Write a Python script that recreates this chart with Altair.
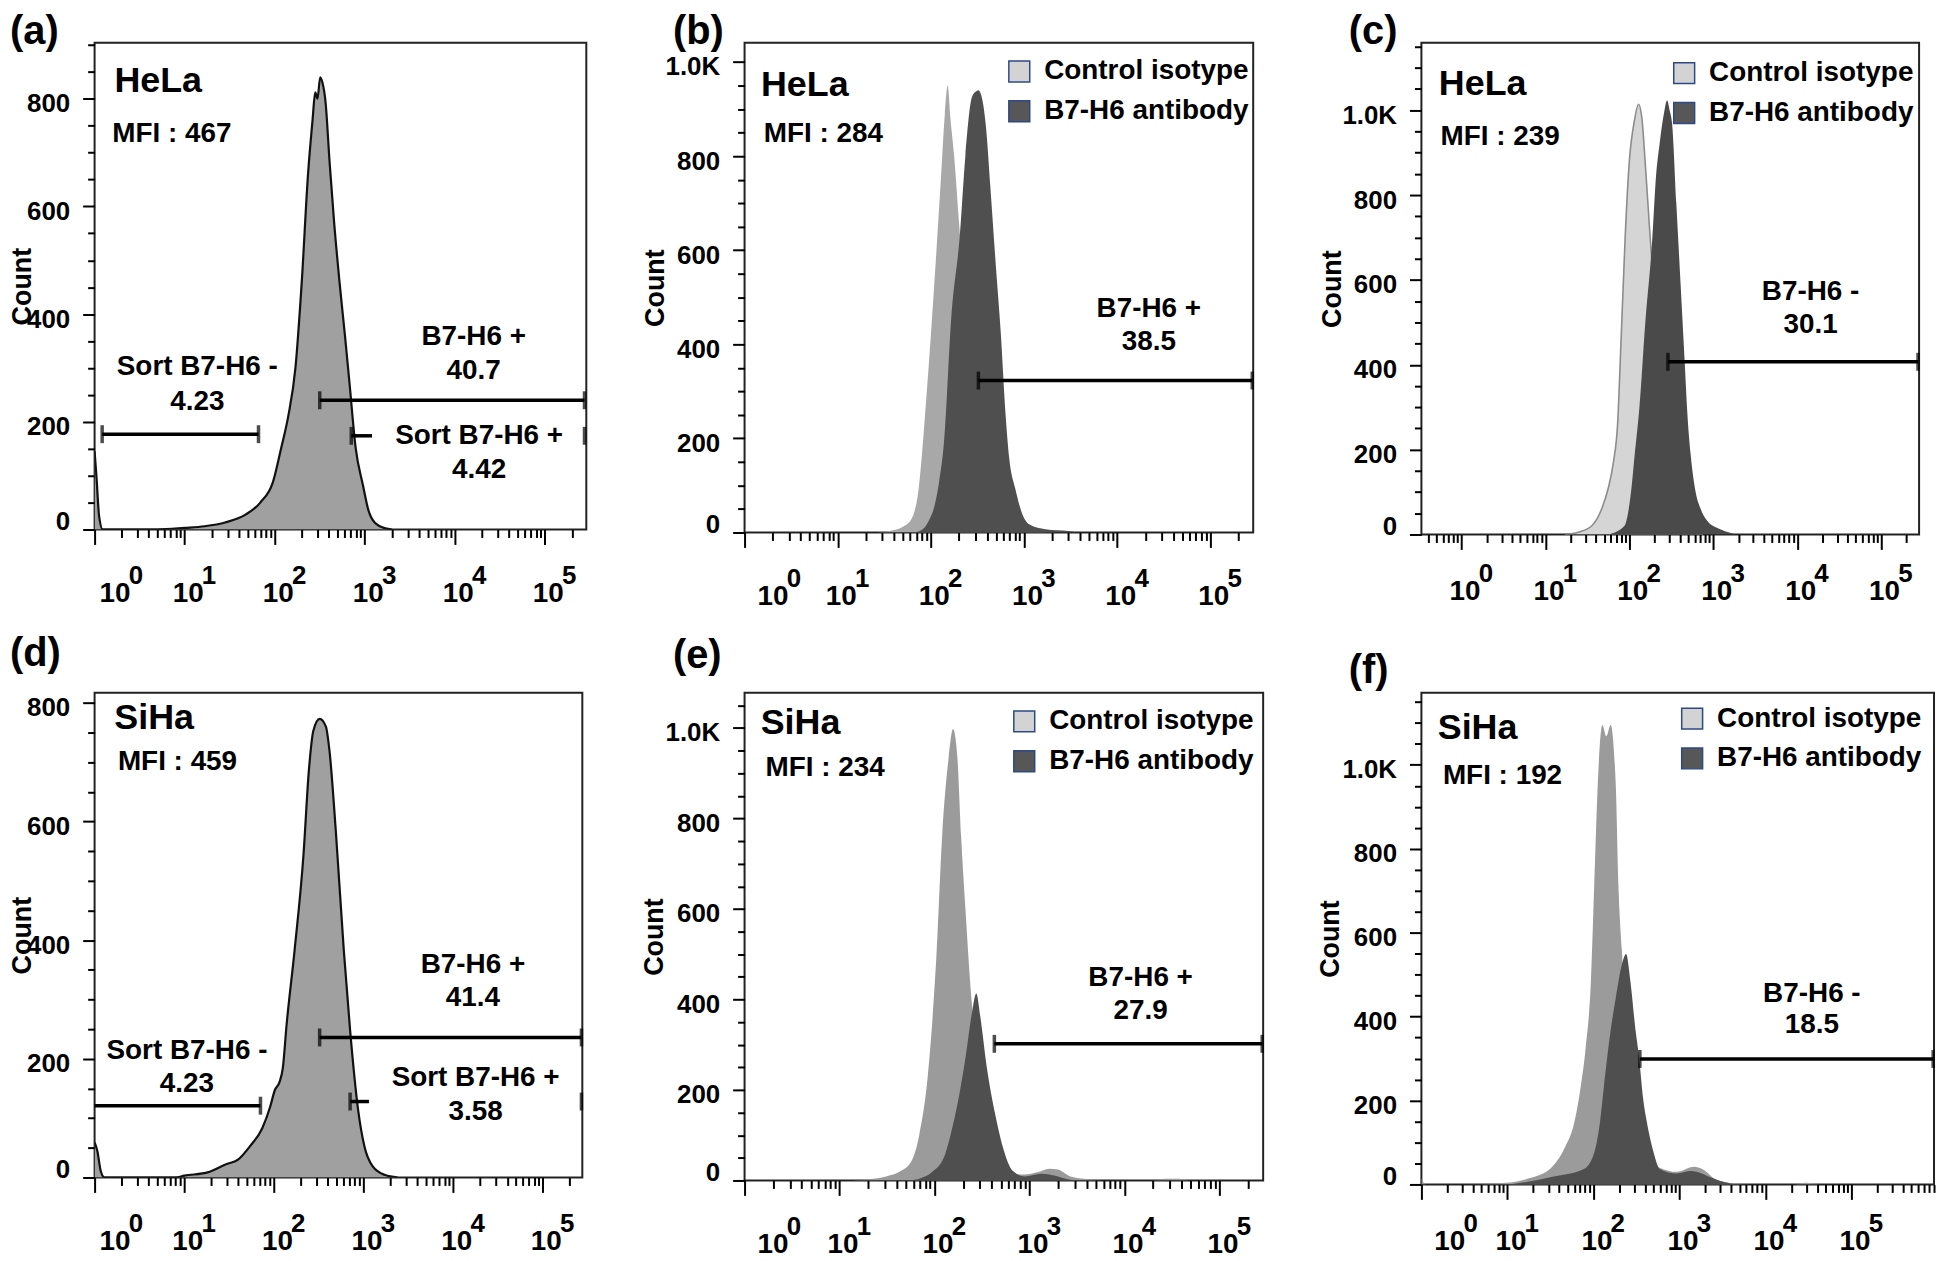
import math
import altair as alt
import pandas as pd

FONT = "Liberation Sans"

# ------------------------------------------------------------------ data
# x = log10(fluorescence intensity), y = cell count
# (a) HeLa (sorted population), single histogram
A_LX = [0.0, 0.02, 0.05, 0.09, 0.70, 1.00, 1.22, 1.45, 1.68, 1.84, 1.98, 2.07, 2.15, 2.23, 2.30, 2.37, 2.42,
        2.45, 2.475, 2.505, 2.53, 2.565, 2.61, 2.66, 2.72, 2.78, 2.83, 2.90, 2.98, 3.04, 3.11, 3.23, 3.30]
A_CNT = [145, 100, 25, 0, 0, 3, 6, 13, 28, 50, 88, 150, 210, 300, 459, 660, 760,
         812, 800, 840, 830, 793, 681, 570, 459, 360, 273, 150, 82, 36, 13, 2, 0]
# (b) HeLa control isotype / B7-H6 antibody
B_CTRL_LX = [1.43, 1.58, 1.70, 1.79, 1.87, 1.93, 2.00, 2.06, 2.11, 2.15, 2.18, 2.21, 2.25, 2.30, 2.34, 2.40,
             2.46, 2.53, 2.63, 2.83, 3.03, 3.33]
B_CTRL_CNT = [0, 4, 12, 28, 95, 230, 420, 600, 760, 890, 950, 880, 800, 664, 560, 400, 220, 100, 35, 8, 3, 0]
B_AB_LX = [1.83, 1.93, 1.99, 2.03, 2.09, 2.14, 2.22, 2.31, 2.37, 2.44, 2.48, 2.51, 2.54, 2.59, 2.64, 2.70,
           2.75, 2.80, 2.84, 2.91, 2.98, 3.06, 3.23, 3.48, 3.58]
B_AB_CNT = [0, 10, 30, 50, 110, 190, 460, 630, 800, 925, 937, 940, 930, 865, 730, 560, 425, 256, 160, 90, 40,
            17, 7, 3, 0]
# (c) HeLa control isotype / B7-H6 antibody
C_CTRL_LX = [1.23, 1.40, 1.55, 1.67, 1.75, 1.81, 1.86, 1.90, 1.95, 2.00, 2.06, 2.11, 2.15, 2.19, 2.24, 2.32,
             2.39, 2.49, 2.64, 2.88]
C_CTRL_CNT = [0, 6, 20, 60, 110, 170, 260, 450, 700, 880, 975, 1014, 980, 874, 724, 499, 265, 78, 12, 0]
C_AB_LX = [1.75, 1.94, 2.02, 2.06, 2.12, 2.19, 2.27, 2.32, 2.36, 2.41, 2.45, 2.48, 2.51, 2.56, 2.61, 2.66,
           2.69, 2.73, 2.79, 2.85, 2.93, 3.09, 3.29]
C_AB_CNT = [0, 20, 100, 180, 300, 499, 686, 850, 920, 990, 1023, 1000, 967, 780, 593, 405, 290, 190, 100, 60,
            32, 12, 0]
# (d) SiHa (sorted population), single histogram
D_LX = [0.0, 0.03, 0.07, 0.11, 0.90, 1.00, 1.27, 1.46, 1.60, 1.73, 1.87, 1.96, 2.01, 2.06, 2.10, 2.14, 2.23,
        2.33, 2.39, 2.44, 2.51, 2.58, 2.62, 2.69, 2.78, 2.85, 2.94, 3.01, 3.10, 3.24, 3.38]
D_CNT = [59, 45, 10, 0, 0, 3, 9, 22, 30, 52, 83, 120, 147, 160, 185, 255, 382,
         544, 686, 753, 773, 760, 719, 585, 382, 248, 113, 52, 19, 4, 0]
# (e) SiHa control isotype / B7-H6 antibody
E_CTRL_LX = [1.13, 1.31, 1.49, 1.62, 1.75, 1.84, 1.93, 2.02, 2.08, 2.15, 2.195, 2.24, 2.28, 2.33, 2.37, 2.42,
             2.46, 2.53, 2.64, 2.77, 2.95, 3.08, 3.21, 3.30, 3.43, 3.61, 3.75, 4.28, 4.43, 4.58, 4.68]
E_CTRL_CNT = [0, 3, 9, 18, 40, 101, 233, 497, 761, 937, 998, 937, 761, 585, 453, 321,
              189, 84, 31, 18, 13, 18, 26, 24, 9, 3, 0, 0, 4, 4, 0]
E_AB_LX = [1.71, 1.84, 1.97, 2.11, 2.19, 2.26, 2.33, 2.39, 2.44, 2.48, 2.55, 2.64, 2.73, 2.82, 2.95, 3.13,
           3.26, 3.39, 3.48]
E_AB_CNT = [0, 4, 18, 57, 119, 189, 277, 365, 413, 365, 251, 145, 66, 22, 9, 15, 11, 3, 0]
# (f) SiHa control isotype / B7-H6 antibody
F_CTRL_LX = [0.0, 0.05, 0.52, 0.89, 1.08, 1.24, 1.51, 1.66, 1.78, 1.85, 1.91, 1.97, 2.01, 2.05, 2.104, 2.15,
             2.20, 2.26, 2.29, 2.33, 2.38, 2.44, 2.52, 2.62, 2.77, 2.97, 3.17, 3.27, 3.42, 3.62, 3.82, 4.32,
             4.47, 4.62]
F_CTRL_CNT = [14, 0, 0, 3, 6, 14, 40, 85, 150, 230, 326, 482, 717, 951, 1095, 1068,
              1095, 951, 717, 560, 400, 250, 120, 60, 40, 30, 42, 36, 12, 3, 0, 0, 4, 0]
F_AB_LX = [1.02, 1.22, 1.51, 1.89, 2.01, 2.08, 2.12, 2.20, 2.26, 2.33, 2.38, 2.43, 2.49, 2.53, 2.58, 2.62,
           2.70, 2.77, 2.97, 3.12, 3.20, 3.35, 3.52, 3.67]
F_AB_CNT = [0, 6, 18, 37, 76, 155, 230, 367, 445, 523, 549, 484, 367, 304, 201, 150, 76, 37, 26, 32, 30, 18,
            6, 0]

# panel letters and header texts
LETTER = ["(a)", "(b)", "(c)", "(d)", "(e)", "(f)"]
CELL = ["HeLa", "HeLa", "HeLa", "SiHa", "SiHa", "SiHa"]
CELL_LX = [0.22, 0.176, -0.27, 0.22, 0.17, 0.19]
CELL_Y = [832, 952, 1061, 775, 1011, 1087]
MFI = ["MFI : 467", "MFI : 284", "MFI : 239", "MFI : 459", "MFI : 234", "MFI : 192"]
MFI_LX = [0.196, 0.207, -0.25, 0.26, 0.22, 0.25]
MFI_Y = [735, 847, 937, 700, 912, 973]

# gate labels
A_NOTE = ["Sort B7-H6 -", "4.23", "B7-H6 +", "40.7", "Sort B7-H6 +", "4.42"]
A_NOTE_LX = [1.14, 1.14, 4.21, 4.21, 4.27, 4.27]
A_NOTE_Y = [301, 236, 357, 295, 173, 110]
B_NOTE = ["B7-H6 +", "38.5"]
B_NOTE_LX = [4.34, 4.34]
B_NOTE_Y = [474, 404]
C_NOTE = ["B7-H6 -", "30.1"]
C_NOTE_LX = [4.16, 4.16]
C_NOTE_Y = [572, 494]
D_NOTE = ["Sort B7-H6 -", "4.23", "B7-H6 +", "41.4", "Sort B7-H6 +", "3.58"]
D_NOTE_LX = [1.03, 1.03, 4.22, 4.22, 4.25, 4.25]
D_NOTE_Y = [213, 157, 358, 302, 167, 110]
E_NOTE = ["B7-H6 +", "27.9"]
E_NOTE_LX = [4.17, 4.17]
E_NOTE_Y = [447, 374]
F_NOTE = ["B7-H6 -", "18.5"]
F_NOTE_LX = [4.54, 4.54]
F_NOTE_Y = [455, 380]

# gate bars (log10 start, log10 end, count level) and their end caps
A_GATE_X1 = [0.084, 2.50, 2.85]
A_GATE_X2 = [1.82, 5.44, 3.08]
A_GATE_Y = [177, 240, 174]
A_CAP_X = [0.084, 1.82, 2.50, 5.44, 2.85, 5.44]
A_CAP_Y = [177, 177, 240, 240, 174, 174]
B_GATE_X1, B_GATE_X2, B_GATE_Y = [2.51], [5.45], [323]
B_CAP_X, B_CAP_Y = [2.51, 5.45], [323, 323]
C_GATE_X1, C_GATE_X2, C_GATE_Y = [2.46], [5.44], [407]
C_CAP_X, C_CAP_Y = [2.46, 5.44], [407, 407]
D_GATE_X1 = [0.0, 2.51, 2.85]
D_GATE_X2 = [1.85, 5.43, 3.06]
D_GATE_Y = [121, 236, 128]
D_CAP_X = [1.85, 2.51, 5.43, 2.85, 5.43]
D_CAP_Y = [121, 236, 236, 128, 128]
E_GATE_X1, E_GATE_X2, E_GATE_Y = [2.63], [5.45], [302]
E_CAP_X, E_CAP_Y = [2.63, 5.45], [302, 302]
F_GATE_X1, F_GATE_X2, F_GATE_Y = [2.54], [5.95], [299]
F_CAP_X, F_CAP_Y = [2.54, 5.95], [299, 299]

LEGEND_LABELS = ["Control isotype", "B7-H6 antibody"]
LEGEND_COLORS = ["#d3d3d3", "#575757"]
LEGEND_EDGE = "#2d4a86"

# ------------------------------------------------------------------ helpers
DEC = "abs(log(datum.value) / LN10 - round(log(datum.value) / LN10)) < 0.0001"
ONE = "datum.value > 0.99 && datum.value < 1.01"


def x_ticks(lo, hi):
    vals = []
    for d in range(math.floor(lo) - 1, math.ceil(hi) + 1):
        for k in range(1, 10):
            v = k * 10.0 ** d
            if lo - 1e-9 <= math.log10(v) <= hi + 1e-9:
                vals.append(v)
    return vals


def x_decades(lo, hi):
    return [10.0 ** d for d in range(math.ceil(lo - 1e-9), math.floor(hi + 1e-9) + 1)]


def df_xy(lx, cnt):
    return pd.DataFrame({"lx": lx, "count": cnt})


def make_panel(p):
    lo, hi = p["xmin"], p["xmax"]
    xs = alt.Scale(type="log", domain=[10 ** lo, 10 ** hi], nice=False)
    ys = alt.Scale(domain=[0, p["ymax"]], nice=False, zero=True)
    shift = p["shift0"]
    lpad = p["lpad"]

    ax_main = alt.Axis(
        orient="bottom", values=x_ticks(lo, hi), labelExpr=f"({DEC}) ? '10' : ''",
        tickSize={"condition": {"test": DEC, "value": 15}, "value": 8},
        tickWidth=2, tickColor="black", domain=False, grid=False,
        labelFont=FONT, labelFontSize=28, labelFontWeight="bold", labelColor="black",
        labelPadding=35 + lpad, labelOffset={"condition": {"test": ONE, "value": 3 + shift}, "value": 3},
        labelOverlap=False, labelFlush=False, labelBound=False, title=None)
    ax_exp = alt.Axis(
        orient="bottom", values=x_decades(lo, hi),
        labelExpr="format(round(log(datum.value) / LN10), 'd')",
        ticks=False, domain=False, grid=False,
        labelFont=FONT, labelFontSize=26, labelFontWeight="bold", labelColor="black",
        labelPadding=33 + lpad, labelOffset={"condition": {"test": ONE, "value": 24 + shift}, "value": 24},
        labelOverlap=False, labelFlush=False, labelBound=False, title=None)
    ax_y = alt.Axis(
        values=list(range(0, int(p["ymax"]) + 1, 50)),
        labelExpr="datum.value % 200 === 0 ? (datum.value >= 1000 ? format(datum.value / 1000, '.1f') + 'K' : '' + datum.value) : ''",
        tickSize={"condition": {"test": "datum.value % 200 === 0", "value": 12}, "value": 7},
        tickWidth=2, tickColor="black", domain=False, grid=False,
        labelFont=FONT, labelFontSize=26, labelFontWeight="bold", labelColor="black",
        labelPadding=13, labelOffset={"condition": {"test": "datum.value === 0", "value": -8}, "value": 5},
        labelOverlap=False, labelFlush=False, labelBound=False,
        title="Count", titleFont=FONT, titleFontSize=27, titleFontWeight="bold", titleColor="black",
        titleAngle=270, titleX=p["count_x"], titleY=p["h"] / 2, titleBaseline="middle", titleAlign="center")

    def xenc(axis=None):
        return alt.X("x:Q", scale=xs, axis=axis)

    def yenc(axis=None):
        return alt.Y("count:Q", scale=ys, axis=axis)

    layers = []
    first = True
    for s in p["series"]:
        base = alt.Chart(df_xy(s["lx"], s["cnt"])).transform_calculate(x="pow(10, datum.lx)")
        area = base.mark_area(fill=s["fill"], clip=True, interpolate="monotone", opacity=1).encode(
            x=xenc(ax_main if first else None), y=yenc(ax_y if first else None))
        layers.append(area)
        first = False
        if s.get("line"):
            layers.append(base.mark_line(color=s["line"], strokeWidth=s["lw"], clip=True,
                                         interpolate="monotone").encode(x=xenc(), y=yenc()))

    g = p["gate"]
    gdf = pd.DataFrame({"x1": g[0], "x2": g[1], "count": g[2]})
    layers.append(alt.Chart(gdf).transform_calculate(
        xa="pow(10, datum.x1)", xb="pow(10, datum.x2)").mark_rule(color="black", strokeWidth=3.5).encode(
        x=alt.X("xa:Q", scale=xs, axis=None), x2="xb:Q", y=yenc()))
    cdf = pd.DataFrame({"lx": g[3], "count": g[4]})
    layers.append(alt.Chart(cdf).transform_calculate(x="pow(10, datum.lx)").mark_tick(
        orient="vertical", color="black", size=18, thickness=3.5).encode(x=xenc(), y=yenc()))

    i = p["idx"]
    hdr = pd.DataFrame({"t": [CELL[i]], "lx": [CELL_LX[i]], "count": [CELL_Y[i]]})
    layers.append(alt.Chart(hdr).transform_calculate(x="pow(10, datum.lx)").mark_text(
        font=FONT, fontSize=36, fontWeight="bold", align="left", baseline="middle", color="black").encode(
        x=xenc(), y=yenc(), text="t:N"))
    mfi = pd.DataFrame({"t": [MFI[i]], "lx": [MFI_LX[i]], "count": [MFI_Y[i]]})
    layers.append(alt.Chart(mfi).transform_calculate(x="pow(10, datum.lx)").mark_text(
        font=FONT, fontSize=28, fontWeight="bold", align="left", baseline="middle", color="black").encode(
        x=xenc(ax_exp), y=yenc(), text="t:N"))
    nt = p["note"]
    ndf = pd.DataFrame({"t": nt[0], "lx": nt[1], "count": nt[2]})
    layers.append(alt.Chart(ndf).transform_calculate(x="pow(10, datum.lx)").mark_text(
        font=FONT, fontSize=28, fontWeight="bold", align="center", baseline="middle", color="black").encode(
        x=xenc(), y=yenc(), text="t:N"))

    # panel letter, placed just above the top-left corner of the frame
    ldf = pd.DataFrame({"t": [LETTER[i]]})
    layers.append(alt.Chart(ldf).mark_text(
        font=FONT, fontSize=40, fontWeight="bold", align="left", baseline="top", color="black").encode(
        x=alt.value(p["tdx"]), y=alt.value(p["tdy"]), text="t:N"))

    if p.get("legend"):
        lx, ly = p["legend"]
        legdf = pd.DataFrame({"series": LEGEND_LABELS, "lx": [2.0, 2.0], "count": [0, 0]})
        layers.append(alt.Chart(legdf).transform_calculate(x="pow(10, datum.lx)").mark_square(
            opacity=0, stroke=LEGEND_EDGE, strokeWidth=1.5).encode(
            x=xenc(), y=yenc(),
            color=alt.Color("series:N", scale=alt.Scale(domain=LEGEND_LABELS, range=LEGEND_COLORS),
                            legend=alt.Legend(orient="none", legendX=lx, legendY=ly, title=None,
                                              symbolType="square", symbolSize=441, symbolOpacity=1,
                                              symbolStrokeColor=LEGEND_EDGE, symbolStrokeWidth=1.5,
                                              labelFont=FONT, labelFontSize=28, labelFontWeight="bold",
                                              labelColor="black", labelOffset=11, labelLimit=0,
                                              rowPadding=12, padding=0, direction="vertical"))))

    return alt.layer(*layers).resolve_axis(x="independent", y="independent").properties(
        width=p["w"], height=p["h"])


AB_DARK = "#4f4f4f"
PANELS = [
    dict(idx=0, w=494, h=489, xmin=0.0, xmax=5.46, ymax=904, shift0=17, lpad=0, count_x=-72, tdx=-85, tdy=-31,
         series=[dict(lx=A_LX, cnt=A_CNT, fill="#a0a0a0", line="#111111", lw=2.2)],
         gate=(A_GATE_X1, A_GATE_X2, A_GATE_Y, A_CAP_X, A_CAP_Y), note=(A_NOTE, A_NOTE_LX, A_NOTE_Y)),
    dict(idx=1, w=511, h=492, xmin=0.0, xmax=5.46, ymax=1041, shift0=25, lpad=0, count_x=-89, tdx=-72, tdy=-31,
         legend=(262, 14.8),
         series=[dict(lx=B_CTRL_LX, cnt=B_CTRL_CNT, fill="#a8a8a8"), dict(lx=B_AB_LX, cnt=B_AB_CNT, fill=AB_DARK)],
         gate=(B_GATE_X1, B_GATE_X2, B_GATE_Y, B_CAP_X, B_CAP_Y), note=(B_NOTE, B_NOTE_LX, B_NOTE_Y)),
    dict(idx=2, w=500, h=494, xmin=-0.478, xmax=5.453, ymax=1159, shift0=0, lpad=-7, count_x=-89, tdx=-73,
         tdy=-31, legend=(250, 16.5),
         series=[dict(lx=C_CTRL_LX, cnt=C_CTRL_CNT, fill="#d5d5d5", line="#8c8c8c", lw=1.6),
                 dict(lx=C_AB_LX, cnt=C_AB_CNT, fill="#4a4a4a")],
         gate=(C_GATE_X1, C_GATE_X2, C_GATE_Y, C_CAP_X, C_CAP_Y), note=(C_NOTE, C_NOTE_LX, C_NOTE_Y)),
    dict(idx=3, w=490, h=487, xmin=0.0, xmax=5.44, ymax=817, shift0=17, lpad=0, count_x=-72, tdx=-85,
         tdy=-59,
         series=[dict(lx=D_LX, cnt=D_CNT, fill="#a0a0a0", line="#111111", lw=2.2)],
         gate=(D_GATE_X1, D_GATE_X2, D_GATE_Y, D_CAP_X, D_CAP_Y), note=(D_NOTE, D_NOTE_LX, D_NOTE_Y)),
    dict(idx=4, w=521, h=490, xmin=0.0, xmax=5.46, ymax=1078, shift0=25, lpad=0, count_x=-90, tdx=-72,
         tdy=-57, legend=(267, 14.8),
         series=[dict(lx=E_CTRL_LX, cnt=E_CTRL_CNT, fill="#9b9b9b"), dict(lx=E_AB_LX, cnt=E_AB_CNT, fill=AB_DARK)],
         gate=(E_GATE_X1, E_GATE_X2, E_GATE_Y, E_CAP_X, E_CAP_Y), note=(E_NOTE, E_NOTE_LX, E_NOTE_Y)),
    dict(idx=5, w=515, h=494, xmin=0.0, xmax=5.96, ymax=1172, shift0=25, lpad=-7, count_x=-91, tdx=-73,
         tdy=-42, legend=(258, 12),
         series=[dict(lx=F_CTRL_LX, cnt=F_CTRL_CNT, fill="#9b9b9b"), dict(lx=F_AB_LX, cnt=F_AB_CNT, fill=AB_DARK)],
         gate=(F_GATE_X1, F_GATE_X2, F_GATE_Y, F_CAP_X, F_CAP_Y), note=(F_NOTE, F_NOTE_LX, F_NOTE_Y)),
]

panels = [make_panel(p) for p in PANELS]

chart = alt.concat(*panels, columns=3, spacing={"row": 159, "column": 159}, bounds="flush", align="each")
chart = chart.resolve_scale(color="independent").properties(padding=0).configure_view(
    stroke="#222222", strokeWidth=2)

chart.save("out.html", embed_options={"renderer": "svg", "actions": False})
